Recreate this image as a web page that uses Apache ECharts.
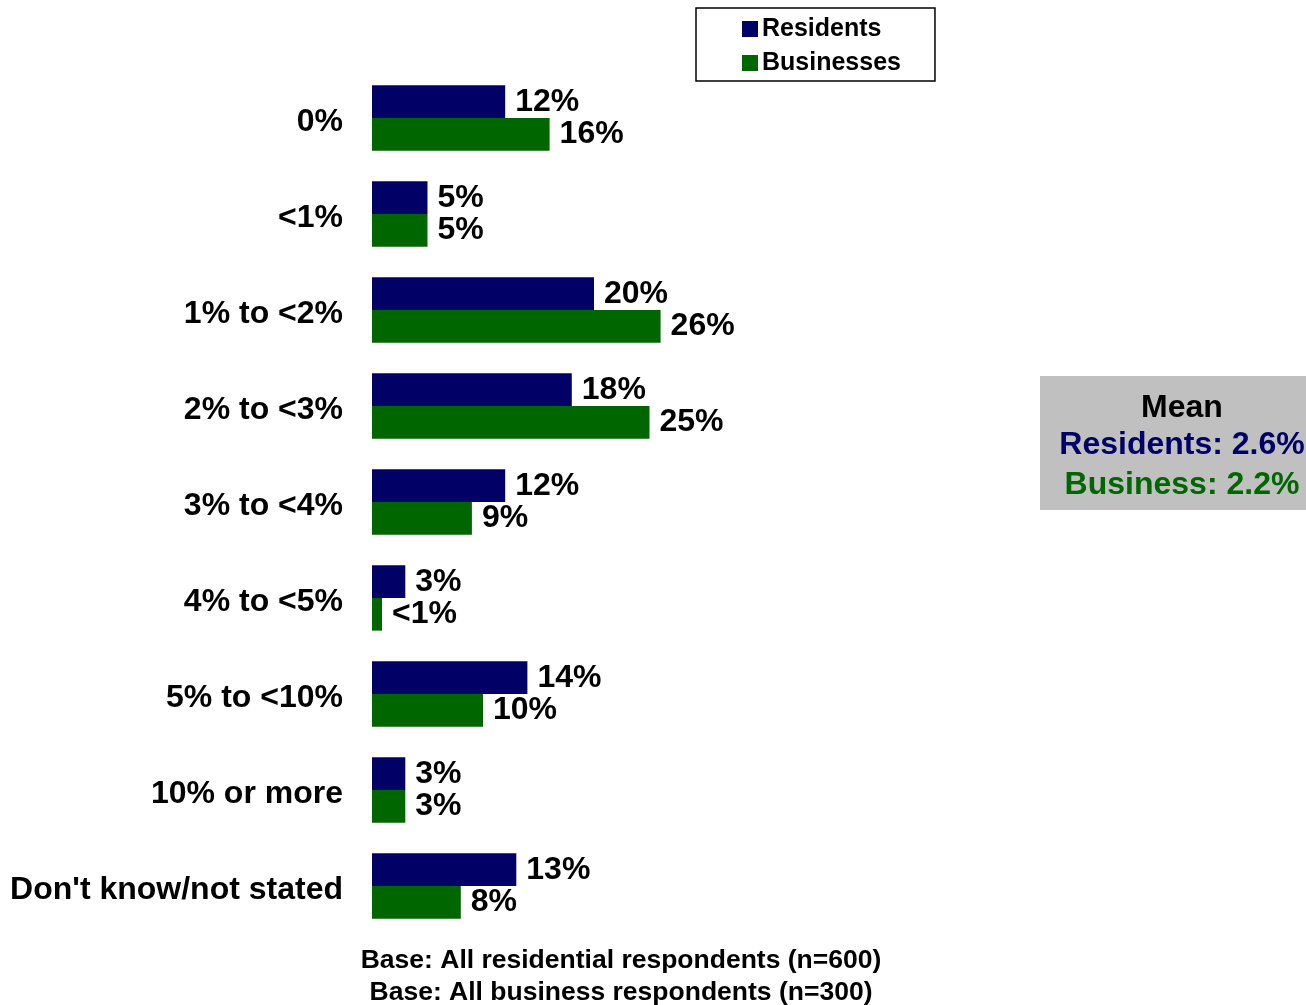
<!DOCTYPE html>
<html>
<head>
<meta charset="utf-8">
<title>Expected rate</title>
<script src="https://cdn.jsdelivr.net/npm/echarts@6/dist/echarts.min.js"></script>
<style>
  html, body { margin: 0; padding: 0; background: #ffffff; }
  #chart { width: 1306px; height: 1005px; }
</style>
</head>
<body>
<div id="chart"></div>
<script>
// Answer bands, top to bottom
const categories = ['0%', '<1%', '1% to <2%', '2% to <3%', '3% to <4%', '4% to <5%', '5% to <10%', '10% or more', "Don't know/not stated"];

// Share of respondents (%) per band
const residents = [12, 5, 20, 18, 12, 3, 14, 3, 13];
const businesses = [16, 5, 26, 25, 9, 0.9, 10, 3, 8];

// Printed labels (the small business share is shown as "<1%")
const residentLabels = ['12%', '5%', '20%', '18%', '12%', '3%', '14%', '3%', '13%'];
const businessLabels = ['16%', '5%', '26%', '25%', '9%', '<1%', '10%', '3%', '8%'];

// Mean summary
const meanResidents = '2.6%';
const meanBusiness = '2.2%';

// Base notes
const baseNotes = ['Base: All residential respondents (n=600)', 'Base: All business respondents (n=300)'];

const FONT = '"Liberation Sans", Arial, Helvetica, sans-serif';
const NAVY = '#000066';
const GREEN = '#006600';

const chart = echarts.init(document.getElementById('chart'), null, { renderer: 'canvas' });

function valueLabel(texts) {
  return {
    show: true,
    position: 'right',
    distance: 10,
    formatter: p => texts[p.dataIndex],
    color: '#000000',
    fontFamily: FONT,
    fontWeight: 'bold',
    fontSize: 32,
    padding: [6, 0, 0, 0]
  };
}

chart.setOption({
  backgroundColor: '#ffffff',
  animation: false,
  textStyle: { fontFamily: FONT },
  legend: {
    orient: 'vertical',
    left: 696,
    top: 8,
    data: ['Residents', 'Businesses'],
    icon: 'rect',
    itemWidth: 16,
    itemHeight: 16,
    itemGap: 4,
    padding: [6, 34, 3, 46],
    borderColor: '#000000',
    borderWidth: 1.5,
    backgroundColor: '#ffffff',
    textStyle: {
      color: '#000000',
      fontFamily: FONT,
      fontWeight: 'bold',
      fontSize: 25,
      lineHeight: 30,
      padding: [0, 0, 0, -1]
    }
  },
  grid: { left: 372, top: 70, bottom: 71, right: 379, containLabel: false },
  xAxis: {
    type: 'value',
    min: 0,
    max: 50,
    show: false,
    splitLine: { show: false }
  },
  yAxis: {
    type: 'category',
    data: categories,
    inverse: true,
    axisLine: { show: false },
    axisTick: { show: false },
    axisLabel: {
      margin: 29,
      color: '#000000',
      fontFamily: FONT,
      fontWeight: 'bold',
      fontSize: 32,
      verticalAlign: 'top',
      lineHeight: 8
    }
  },
  series: [
    {
      name: 'Residents',
      type: 'bar',
      data: residents,
      barGap: '0%',
      barCategoryGap: '32%',
      itemStyle: { color: NAVY },
      label: valueLabel(residentLabels)
    },
    {
      name: 'Businesses',
      type: 'bar',
      data: businesses,
      barGap: '0%',
      barCategoryGap: '32%',
      itemStyle: { color: GREEN },
      label: valueLabel(businessLabels)
    }
  ],
  graphic: [
    {
      type: 'group',
      left: 1040,
      top: 376,
      children: [
        { type: 'rect', shape: { x: 0, y: 0, width: 280, height: 134 }, style: { fill: '#c0c0c0' } },
        { type: 'text', x: 142, y: 32, style: { text: 'Mean', fill: '#000000', font: 'bold 32px ' + FONT, textAlign: 'center', textVerticalAlign: 'middle' } },
        { type: 'text', x: 142, y: 69, style: { text: 'Residents: ' + meanResidents, fill: NAVY, font: 'bold 32px ' + FONT, textAlign: 'center', textVerticalAlign: 'middle' } },
        { type: 'text', x: 142, y: 109, style: { text: 'Business: ' + meanBusiness, fill: GREEN, font: 'bold 32px ' + FONT, textAlign: 'center', textVerticalAlign: 'middle' } }
      ]
    },
    { type: 'text', x: 621, y: 961, style: { text: baseNotes[0], fill: '#000000', font: 'bold 26.5px ' + FONT, textAlign: 'center', textVerticalAlign: 'middle' } },
    { type: 'text', x: 621, y: 993, style: { text: baseNotes[1], fill: '#000000', font: 'bold 26.5px ' + FONT, textAlign: 'center', textVerticalAlign: 'middle' } }
  ]
});
</script>
</body>
</html>
